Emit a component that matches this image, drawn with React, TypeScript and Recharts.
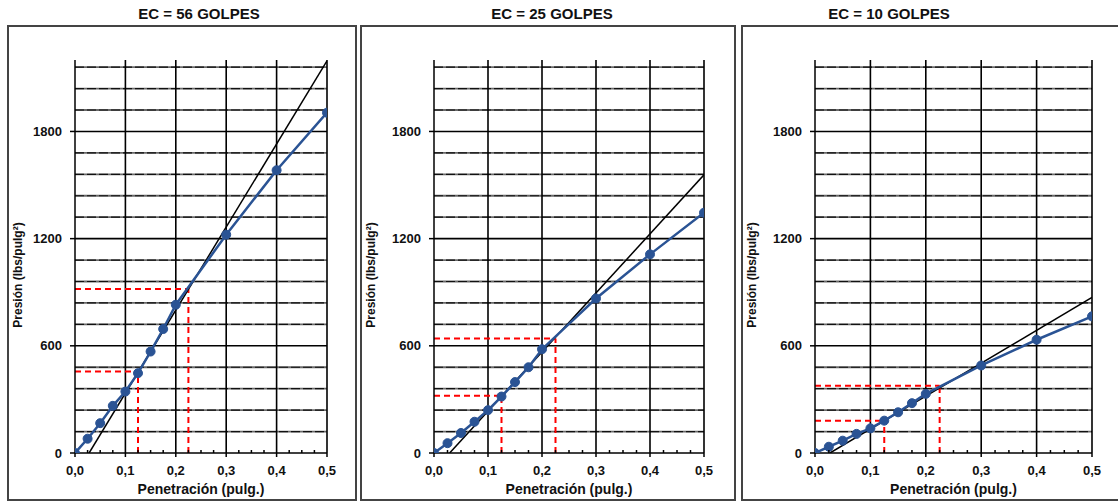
import React from 'react';
import { ComposedChart, Line, XAxis, YAxis, ReferenceLine } from 'recharts';

// Penetración (pulg.) de cada lectura
const penetracion = [0, 0.025, 0.05, 0.075, 0.1, 0.125, 0.15, 0.175, 0.2, 0.3, 0.4, 0.5];

// Presión (lbs/pulg²) por energía de compactación
const presion56 = [0, 80, 167, 264, 344, 447, 568, 694, 830, 1222, 1583, 1905];
const presion25 = [0, 55, 112, 175, 240, 316, 397, 480, 581, 865, 1112, 1345];
const presion10 = [0, 35, 69, 107, 138, 181, 228, 279, 331, 490, 634, 765];

// Recta tangente (corrección de origen)
const tangente56X = [0.028, 0.5];
const tangente56Y = [0, 2195];
const tangente25X = [0.029, 0.5];
const tangente25Y = [0, 1557];
const tangente10X = [0.027, 0.5];
const tangente10Y = [0, 871];

// Penetraciones corregidas 0,1" y 0,2" y sus presiones
const correccionX = [0.125, 0.225];
const correccion56 = [456, 918];
const correccion25 = [321, 641];
const correccion10 = [181, 376];

// Ejes y rejilla
const xTicks = [0, 0.025, 0.05, 0.075, 0.1, 0.125, 0.15, 0.175, 0.2, 0.225, 0.25, 0.275, 0.3, 0.325, 0.35, 0.375, 0.4, 0.425, 0.45, 0.475, 0.5];
const xGrid = [0.1, 0.2, 0.3, 0.4, 0.5];
const yTicks = [0, 600, 1200, 1800];
const yMinor = [120, 240, 360, 480, 720, 840, 960, 1080, 1320, 1440, 1560, 1680, 1920, 2040, 2160];

const FONT = '"Liberation Sans", Arial, sans-serif';
const BLUE = '#2a5394';

const panels = [
  { title: 'EC = 56 GOLPES', presion: presion56, tanX: tangente56X, tanY: tangente56Y, corr: correccion56, plotLeft: 75, plotRight: 327, boxLeft: 7, boxRight: 357, titleX: 199 },
  { title: 'EC = 25 GOLPES', presion: presion25, tanX: tangente25X, tanY: tangente25Y, corr: correccion25, plotLeft: 434, plotRight: 704, boxLeft: 360, boxRight: 736, titleX: 552 },
  { title: 'EC = 10 GOLPES', presion: presion10, tanX: tangente10X, tanY: tangente10Y, corr: correccion10, plotLeft: 815, plotRight: 1092, boxLeft: 741, boxRight: 1140, titleX: 889 },
];

const XTick = (props: any) => {
  const { x, y, payload } = props;
  const v = payload.value as number;
  const major = Math.abs(v * 10 - Math.round(v * 10)) < 1e-6;
  if (!major) {
    return <line x1={x} x2={x} y1={y} y2={y - 3} stroke="#000" strokeWidth={1.5} />;
  }
  return (
    <g>
      <line x1={x} x2={x} y1={y} y2={y + 4} stroke="#000" strokeWidth={1.5} />
      <text x={x} y={y + 22} textAnchor="middle" fontFamily={FONT} fontWeight="bold" fontSize={13} fill="#111">
        {v.toFixed(1).replace('.', ',')}
      </text>
    </g>
  );
};

const Panel = ({ p }: { p: (typeof panels)[number] }) => {
  const data = penetracion.map((x, i) => ({ x, y: p.presion[i] }));
  const tangente = p.tanX.map((x, i) => ({ x, y: p.tanY[i] }));
  const plotW = p.plotRight - p.plotLeft;
  const yAxisW = 70;
  const rightM = 12;

  return (
    <>
      <div
        style={{
          position: 'absolute', left: p.boxLeft, top: 25, width: p.boxRight - p.boxLeft, height: 476,
          border: '2px solid #444', boxSizing: 'border-box',
        }}
      />
      <div
        style={{
          position: 'absolute', left: p.titleX - 100, top: 5, width: 200, textAlign: 'center',
          fontFamily: FONT, fontWeight: 'bold', fontSize: 15, color: '#111', lineHeight: '18px',
        }}
      >
        {p.title}
      </div>
      <div
        style={{
          position: 'absolute', left: p.boxLeft + 11 - 80, top: 275 - 8, width: 160, height: 16,
          transform: 'rotate(-90deg)', textAlign: 'center', fontFamily: FONT, fontWeight: 'bold',
          fontSize: 12, color: '#111', lineHeight: '16px', whiteSpace: 'nowrap',
        }}
      >
        Presión (lbs/pulg²)
      </div>
      <div
        style={{
          position: 'absolute', left: p.plotLeft, top: 480, width: plotW, textAlign: 'center',
          fontFamily: FONT, fontWeight: 'bold', fontSize: 14, color: '#111', lineHeight: '18px',
        }}
      >
        Penetración (pulg.)
      </div>
      <div style={{ position: 'absolute', left: p.plotLeft - yAxisW, top: 0 }}>
        <ComposedChart
          width={plotW + yAxisW + rightM}
          height={502}
          data={data}
          margin={{ top: 60, right: rightM, bottom: 9, left: 0 }}
        >
          <XAxis
            type="number"
            dataKey="x"
            domain={[0, 0.5]}
            ticks={xTicks}
            interval={0}
            height={40}
            tickSize={0}
            tickMargin={0}
            tickLine={false}
            tick={<XTick />}
            axisLine={{ stroke: '#000', strokeWidth: 1.5 }}
            allowDataOverflow
          />
          <YAxis
            type="number"
            domain={[0, 2200]}
            ticks={yTicks}
            width={yAxisW}
            tickSize={5}
            tickMargin={8}
            tickLine={{ stroke: '#000', strokeWidth: 1.5 }}
            axisLine={{ stroke: '#000', strokeWidth: 1.5 }}
            tick={{ fontFamily: FONT, fontWeight: 'bold', fontSize: 13, fill: '#111' }}
            allowDataOverflow
          />
          {yMinor.map(v => (
            <ReferenceLine key={`m${v}`} y={v} stroke="#6a6a6a" strokeWidth={1.8} />
          ))}
          {yMinor.map(v => (
            <ReferenceLine key={`d${v}`} y={v} stroke="#111" strokeWidth={1.2} strokeDasharray="9 3" />
          ))}
          {yTicks.slice(1).map(v => (
            <ReferenceLine key={`M${v}`} y={v} stroke="#000" strokeWidth={1.6} />
          ))}
          {xGrid.map(v => (
            <ReferenceLine key={`v${v}`} x={v} stroke="#000" strokeWidth={1.6} />
          ))}
          {correccionX.map((cx, i) => (
            <ReferenceLine
              key={`rh${i}`}
              segment={[{ x: 0, y: p.corr[i] }, { x: cx, y: p.corr[i] }]}
              stroke="#ff0000"
              strokeWidth={2}
              strokeDasharray="6 4"
            />
          ))}
          {correccionX.map((cx, i) => (
            <ReferenceLine
              key={`rv${i}`}
              segment={[{ x: cx, y: 0 }, { x: cx, y: p.corr[i] }]}
              stroke="#ff0000"
              strokeWidth={2}
              strokeDasharray="6 4"
            />
          ))}
          <Line
            data={tangente}
            dataKey="y"
            type="linear"
            stroke="#000"
            strokeWidth={1.5}
            dot={false}
            activeDot={false}
            isAnimationActive={false}
          />
          <Line
            dataKey="y"
            type="linear"
            stroke={BLUE}
            strokeWidth={2.5}
            dot={{ r: 4.5, fill: BLUE, stroke: BLUE, strokeWidth: 1 }}
            activeDot={false}
            isAnimationActive={false}
          />
        </ComposedChart>
      </div>
    </>
  );
};

export default function App() {
  return (
    <div style={{ position: 'absolute', left: 0, top: 0, width: 1118, height: 502, background: '#fff', overflow: 'hidden' }}>
      {panels.map(p => (
        <Panel key={p.title} p={p} />
      ))}
    </div>
  );
}
